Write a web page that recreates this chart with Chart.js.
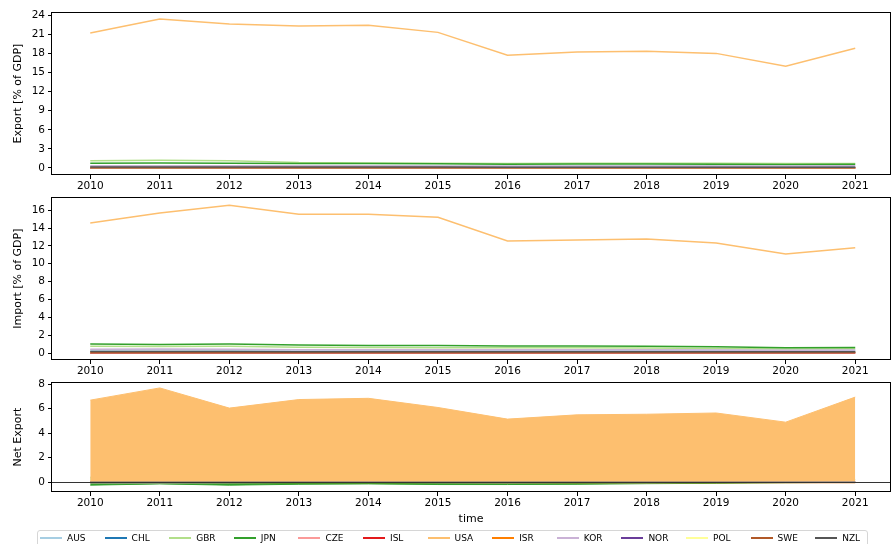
<!DOCTYPE html>
<html>
<head>
<meta charset="utf-8">
<script src="https://cdn.jsdelivr.net/npm/chart.js@4.4.1/dist/chart.umd.min.js"></script>
<style>
  body { margin: 0; background: #fff; width: 892px; height: 544px; overflow: hidden; position: relative; font-family: "DejaVu Sans", sans-serif; }
  canvas { position: absolute; left: 0; }
  #c1 { top: 0; }
  #c2 { top: 188px; }
  #c3 { top: 373px; }
  #legend { position: absolute; left: 37px; top: 530px; width: 829px; height: 22px; border: 1px solid #d6d6d6; border-radius: 3px; }
  .item { position: absolute; top: 0; height: 14px; display: flex; align-items: center; font-size: 9px; color: #000; white-space: nowrap; }
  .swatch { width: 22px; height: 2px; margin-right: 5px; }
</style>
</head>
<body>
<canvas id="c1" width="892" height="196"></canvas>
<canvas id="c2" width="892" height="193"></canvas>
<canvas id="c3" width="892" height="156"></canvas>
<div id="legend"></div>
<script>
// Daten
const years = [2010, 2011, 2012, 2013, 2014, 2015, 2016, 2017, 2018, 2019, 2020, 2021];
const countries = ['AUS', 'CHL', 'GBR', 'JPN', 'CZE', 'ISL', 'USA', 'ISR', 'KOR', 'NOR', 'POL', 'SWE', 'NZL'];
const colors = ['#a6cee3', '#1f78b4', '#b2df8a', '#33a02c', '#fb9a99', '#e31a1c', '#fdbf6f',
                '#ff7f00', '#cab2d6', '#6a3d9a', '#ffff99', '#b15928', '#555555'];

const exportTicks = [0, 3, 6, 9, 12, 15, 18, 21, 24];
const importTicks = [0, 2, 4, 6, 8, 10, 12, 14, 16];
const netTicks    = [0, 2, 4, 6, 8];

// Export [% of GDP]
const exportData = {
  AUS: [0.28, 0.30, 0.30, 0.28, 0.27, 0.26, 0.25, 0.26, 0.27, 0.26, 0.24, 0.25],
  CHL: [0.08, 0.09, 0.09, 0.08, 0.08, 0.07, 0.07, 0.07, 0.08, 0.07, 0.07, 0.08],
  GBR: [1.15, 1.20, 1.15, 0.85, 0.80, 0.75, 0.70, 0.75, 0.75, 0.75, 0.70, 0.70],
  JPN: [0.75, 0.80, 0.75, 0.72, 0.70, 0.65, 0.60, 0.62, 0.62, 0.60, 0.55, 0.60],
  CZE: [0.03, 0.03, 0.03, 0.03, 0.03, 0.03, 0.03, 0.03, 0.03, 0.03, 0.03, 0.03],
  ISL: [0.01, 0.01, 0.01, 0.01, 0.01, 0.01, 0.01, 0.01, 0.01, 0.01, 0.01, 0.01],
  USA: [21.2, 23.4, 22.6, 22.3, 22.4, 21.3, 17.7, 18.2, 18.35, 18.0, 16.0, 18.8],
  ISR: [0.06, 0.06, 0.06, 0.06, 0.06, 0.06, 0.05, 0.05, 0.05, 0.05, 0.05, 0.05],
  KOR: [0.35, 0.37, 0.36, 0.35, 0.34, 0.33, 0.30, 0.32, 0.33, 0.32, 0.30, 0.34],
  NOR: [0.04, 0.04, 0.04, 0.04, 0.04, 0.04, 0.04, 0.04, 0.04, 0.04, 0.04, 0.04],
  POL: [0.05, 0.05, 0.05, 0.05, 0.05, 0.05, 0.05, 0.05, 0.05, 0.05, 0.05, 0.05],
  SWE: [0.03, 0.03, 0.03, 0.03, 0.03, 0.03, 0.03, 0.03, 0.03, 0.03, 0.03, 0.03],
  NZL: [0.15, 0.15, 0.15, 0.14, 0.14, 0.14, 0.13, 0.13, 0.13, 0.13, 0.12, 0.13]
};

// Import [% of GDP]
const importData = {
  AUS: [0.35, 0.36, 0.35, 0.33, 0.32, 0.31, 0.30, 0.31, 0.31, 0.30, 0.28, 0.29],
  CHL: [0.10, 0.10, 0.10, 0.10, 0.10, 0.10, 0.10, 0.10, 0.10, 0.10, 0.10, 0.10],
  GBR: [0.75, 0.72, 0.75, 0.65, 0.62, 0.60, 0.58, 0.58, 0.55, 0.52, 0.45, 0.48],
  JPN: [1.00, 0.95, 1.00, 0.90, 0.85, 0.85, 0.80, 0.80, 0.75, 0.70, 0.60, 0.62],
  CZE: [0.00, 0.00, 0.00, 0.00, 0.00, 0.00, 0.00, 0.00, 0.00, 0.00, 0.00, 0.00],
  ISL: [0.01, 0.01, 0.01, 0.01, 0.01, 0.01, 0.01, 0.01, 0.01, 0.01, 0.01, 0.01],
  USA: [14.55, 15.67, 16.55, 15.55, 15.55, 15.2, 12.55, 12.67, 12.78, 12.33, 11.1, 11.78],
  ISR: [0.10, 0.10, 0.10, 0.10, 0.10, 0.10, 0.10, 0.10, 0.10, 0.10, 0.10, 0.10],
  KOR: [0.42, 0.44, 0.42, 0.38, 0.36, 0.38, 0.36, 0.36, 0.38, 0.35, 0.32, 0.34],
  NOR: [0.05, 0.05, 0.05, 0.05, 0.05, 0.05, 0.05, 0.05, 0.05, 0.05, 0.05, 0.05],
  POL: [0.06, 0.06, 0.06, 0.06, 0.06, 0.06, 0.06, 0.06, 0.06, 0.06, 0.06, 0.06],
  SWE: [0.07, 0.07, 0.07, 0.07, 0.07, 0.07, 0.07, 0.07, 0.07, 0.07, 0.07, 0.07],
  NZL: [0.16, 0.16, 0.16, 0.15, 0.15, 0.15, 0.14, 0.14, 0.14, 0.14, 0.13, 0.14]
};

// Net Export
const netData = {
  AUS: [-0.07, -0.06, -0.05, -0.05, -0.05, -0.05, -0.05, -0.05, -0.04, -0.04, -0.04, -0.04],
  CHL: [-0.02, -0.01, -0.01, -0.02, -0.02, -0.03, -0.03, -0.03, -0.02, -0.03, -0.03, -0.02],
  GBR: [0.40, 0.48, 0.40, 0.20, 0.18, 0.15, 0.12, 0.17, 0.20, 0.23, 0.25, 0.22],
  JPN: [-0.25, -0.15, -0.25, -0.18, -0.15, -0.20, -0.20, -0.18, -0.13, -0.10, -0.05, -0.02],
  CZE: [0.03, 0.03, 0.03, 0.03, 0.03, 0.03, 0.03, 0.03, 0.03, 0.03, 0.03, 0.03],
  ISL: [0.00, 0.00, 0.00, 0.00, 0.00, 0.00, 0.00, 0.00, 0.00, 0.00, 0.00, 0.00],
  USA: [6.7, 7.7, 6.05, 6.75, 6.85, 6.1, 5.15, 5.5, 5.55, 5.65, 4.9, 6.95],
  ISR: [-0.04, -0.04, -0.04, -0.04, -0.04, -0.04, -0.05, -0.05, -0.05, -0.05, -0.05, -0.05],
  KOR: [-0.07, -0.07, -0.06, -0.03, -0.02, -0.05, -0.06, -0.04, -0.05, -0.03, -0.02, 0.00],
  NOR: [-0.01, -0.01, -0.01, -0.01, -0.01, -0.01, -0.01, -0.01, -0.01, -0.01, -0.01, -0.01],
  POL: [-0.01, -0.01, -0.01, -0.01, -0.01, -0.01, -0.01, -0.01, -0.01, -0.01, -0.01, -0.01],
  SWE: [-0.04, -0.04, -0.04, -0.04, -0.04, -0.04, -0.04, -0.04, -0.04, -0.04, -0.04, -0.04],
  NZL: [-0.01, -0.01, -0.01, -0.01, -0.01, -0.01, -0.01, -0.01, -0.01, -0.01, -0.01, -0.01]
};

const FONT = { family: 'DejaVu Sans', size: 10.5 };
const TITLE_FONT = { family: 'DejaVu Sans', size: 11 };

// Rahmen um die Plotfläche (wie matplotlib)
const framePlugin = {
  id: 'frame',
  afterDraw(chart) {
    const { ctx, chartArea: a } = chart;
    ctx.save();
    ctx.strokeStyle = '#000';
    ctx.lineWidth = 1;
    ctx.strokeRect(Math.round(a.left) - 0.5, Math.round(a.top) + 0.5,
                   Math.round(a.right - a.left) + 1, Math.round(a.bottom - a.top) - 1);
    ctx.restore();
  }
};

// Nulllinie im unteren Plot
const zeroLinePlugin = {
  id: 'zeroLine',
  afterDatasetsDraw(chart) {
    const { ctx, chartArea: a, scales: { y } } = chart;
    const py = Math.round(y.getPixelForValue(0)) + 0.5;
    ctx.save();
    ctx.strokeStyle = '#333';
    ctx.lineWidth = 1;
    ctx.beginPath();
    ctx.moveTo(a.left, py);
    ctx.lineTo(a.right, py);
    ctx.stroke();
    ctx.restore();
  }
};

function buildDatasets(table, area) {
  return countries.map((c, i) => ({
    label: c,
    data: years.map((yr, k) => ({ x: yr, y: table[c][k] })),
    borderColor: colors[i],
    backgroundColor: colors[i],
    borderWidth: area ? 1 : 1.5,
    pointRadius: 0,
    tension: 0,
    fill: area ? 'origin' : false,
    order: countries.length - i
  }));
}

function makeChart(id, table, opts) {
  return new Chart(document.getElementById(id), {
    type: 'line',
    data: { datasets: buildDatasets(table, opts.area) },
    options: {
      responsive: false,
      animation: false,
      events: [],
      layout: { padding: { top: opts.padTop, right: 2, left: 0, bottom: 0 } },
      plugins: { legend: { display: false }, tooltip: { enabled: false } },
      scales: {
        x: {
          type: 'linear',
          min: 2009.45,
          max: 2021.5,
          afterBuildTicks: s => { s.ticks = years.map(v => ({ value: v })); },
          afterFit: s => { s.height = opts.xHeight; },
          ticks: { color: '#000', font: FONT, padding: 1, maxRotation: 0, autoSkip: false, callback: v => String(v) },
          grid: { drawOnChartArea: false, color: '#000', tickLength: 4 },
          border: { display: false },
          title: opts.xTitle
            ? { display: true, text: opts.xTitle, color: '#000', font: TITLE_FONT, padding: { top: 0, bottom: 3 } }
            : { display: false }
        },
        y: {
          min: opts.yMin,
          max: opts.yMax,
          afterBuildTicks: s => { s.ticks = opts.yTicks.map(v => ({ value: v })); },
          afterFit: s => { s.width = 52; },
          ticks: { color: '#000', font: FONT, padding: 3, callback: v => String(v) },
          grid: { drawOnChartArea: false, color: '#000', tickLength: 4 },
          border: { display: false },
          title: { display: true, text: opts.yTitle, color: '#000', font: TITLE_FONT, padding: { top: 12, bottom: 0 } }
        }
      }
    },
    plugins: opts.area ? [zeroLinePlugin, framePlugin] : [framePlugin]
  });
}

makeChart('c1', exportData, { padTop: 12, xHeight: 21, yMin: -1.1, yMax: 24.5, yTicks: exportTicks, yTitle: 'Export [% of GDP]' });
makeChart('c2', importData, { padTop: 8, xHeight: 21, yMin: -0.78, yMax: 17.44, yTicks: importTicks, yTitle: 'Import [% of GDP]' });
makeChart('c3', netData, { padTop: 8, xHeight: 37, yMin: -0.81, yMax: 8.16, yTicks: netTicks, yTitle: 'Net Export', xTitle: 'time', area: true });

// Legende
const legend = document.getElementById('legend');
countries.forEach((c, i) => {
  const item = document.createElement('div');
  item.className = 'item';
  item.style.left = (2 + i * 64.6) + 'px';
  const sw = document.createElement('span');
  sw.className = 'swatch';
  sw.style.background = colors[i];
  const tx = document.createElement('span');
  tx.textContent = c;
  item.appendChild(sw);
  item.appendChild(tx);
  legend.appendChild(item);
});
</script>
</body>
</html>
